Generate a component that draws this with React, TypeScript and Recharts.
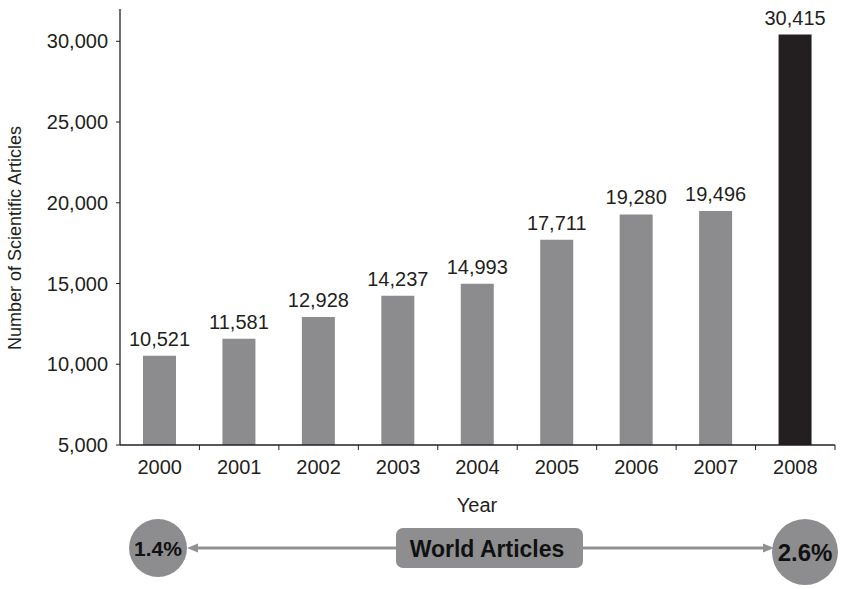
import React from 'react';
import { BarChart, Bar, XAxis, YAxis, Cell, LabelList } from 'recharts';

const years = ['2000', '2001', '2002', '2003', '2004', '2005', '2006', '2007', '2008'];
const articles = [10521, 11581, 12928, 14237, 14993, 17711, 19280, 19496, 30415];
const yTicks = [5000, 10000, 15000, 20000, 25000, 30000];
const highlightYear = '2008';
const worldShareStart = '1.4%';
const worldShareEnd = '2.6%';
const annotationText = 'World Articles';
const xTitle = 'Year';
const yTitle = 'Number of Scientific Articles';

const data = years.map((y, i) => ({ year: y, value: articles[i] }));

const FONT = '"Liberation Sans", Arial, Helvetica, sans-serif';
const INK = '#231f20';
const GRAY = '#8c8c8e';

const fmt = (v: any) => Number(v).toLocaleString('en-US');

const XTick = (props: any) => {
  const { x, y, payload } = props;
  const off = payload && payload.offset != null ? payload.offset : 0;
  return (
    <g>
      <line x1={x + off} x2={x + off} y1={y} y2={y + 5} stroke={INK} strokeWidth={1} />
      <text x={x} y={y + 29} textAnchor="middle" fontSize={20} fill={INK} fontFamily={FONT}>
        {payload.value}
      </text>
    </g>
  );
};

export default function App() {
  return (
    <div style={{ position: 'absolute', left: 0, top: 0, width: 843, height: 589, background: '#fff', fontFamily: FONT }}>
      <BarChart width={843} height={589} data={data} margin={{ top: 9, right: 8, left: 0, bottom: 0 }}>
        <XAxis
          dataKey="year"
          height={144}
          tickSize={0}
          tickMargin={0}
          tickLine={false}
          axisLine={{ stroke: INK, strokeWidth: 1.3 }}
          tick={<XTick />}
          interval={0}
        />
        <YAxis
          width={120}
          domain={[5000, 32000]}
          ticks={yTicks}
          allowDataOverflow
          tickFormatter={fmt}
          tickSize={4}
          tickMargin={8}
          axisLine={{ stroke: INK, strokeWidth: 1.3 }}
          tickLine={{ stroke: INK }}
          tick={{ fontSize: 20, fill: INK, fontFamily: FONT }}
        />
        <Bar dataKey="value" barSize={33} isAnimationActive={false}>
          {data.map((d) => (
            <Cell key={d.year} fill={d.year === highlightYear ? INK : GRAY} />
          ))}
          <LabelList
            dataKey="value"
            position="top"
            offset={10}
            formatter={fmt}
            style={{ fontSize: 20, fill: INK, fontFamily: FONT }}
          />
        </Bar>
        <text x={21} y={238} transform="rotate(-90 21 238)" textAnchor="middle" fontSize={18} fill={INK} fontFamily={FONT}>
          {yTitle}
        </text>
        <text x={477} y={512} textAnchor="middle" fontSize={20} fill={INK} fontFamily={FONT}>
          {xTitle}
        </text>
        <g>
          <line x1={195} x2={396} y1={548} y2={548} stroke="#919193" strokeWidth={3} />
          <polygon points="187,548 198,543.5 198,552.5" fill="#919193" />
          <line x1={583} x2={766} y1={548} y2={548} stroke="#919193" strokeWidth={3} />
          <polygon points="774,548 763,543.5 763,552.5" fill="#919193" />
          <circle cx={158} cy={548} r={29} fill="#8d8d8f" />
          <circle cx={805} cy={552} r={33} fill="#8d8d8f" />
          <rect x={396} y={528} width={187} height={40} rx={7} ry={7} fill="#8e8e90" />
          <text x={158} y={556} textAnchor="middle" fontSize={21} fontWeight="bold" fill="#111" fontFamily={FONT}>
            {worldShareStart}
          </text>
          <text x={805} y={561} textAnchor="middle" fontSize={24} fontWeight="bold" fill="#111" fontFamily={FONT}>
            {worldShareEnd}
          </text>
          <text x={487} y={557} textAnchor="middle" fontSize={23} fontWeight="bold" fill="#111" fontFamily={FONT}>
            {annotationText}
          </text>
        </g>
      </BarChart>
    </div>
  );
}
